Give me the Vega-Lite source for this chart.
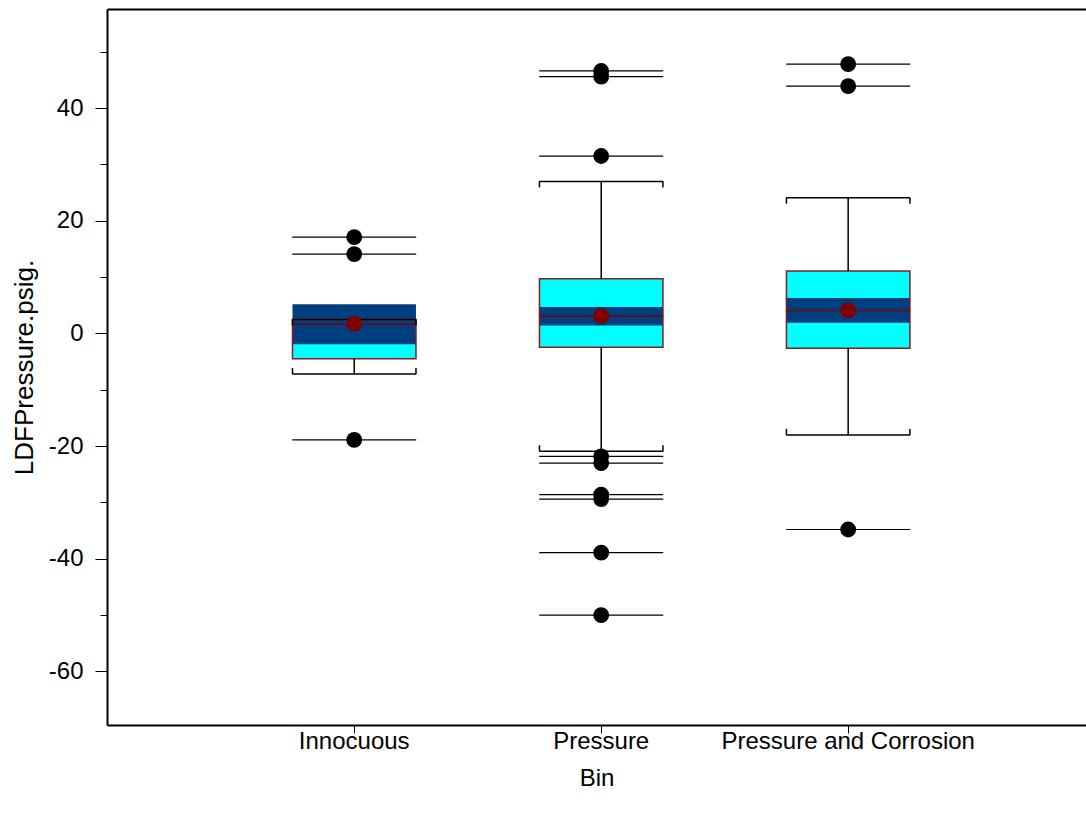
{
  "$schema": "https://vega.github.io/schema/vega-lite/v6.json",
  "width": 979,
  "height": 716,
  "autosize": {"type": "none"},
  "padding": {"left": 107, "top": 9, "right": 0, "bottom": 96},
  "background": "white",
  "config": {
    "view": {"stroke": null},
    "font": "Liberation Sans",
    "axis": {"grid": false, "domainColor": "black", "tickColor": "black", "labelColor": "black", "titleColor": "black", "titleFontWeight": "normal", "labelFont": "Liberation Sans", "titleFont": "Liberation Sans", "labelLimit": 0}
  },
  "datasets": {
    "stats": [
      {"Bin": "Innocuous", "q1": -4.5, "q3": 2.5, "median": 1.7, "mean": 1.7, "ciLow": -1.9, "ciHigh": 5.2, "whiskerLow": -7.2, "whiskerHigh": 2.5},
      {"Bin": "Pressure", "q1": -2.45, "q3": 9.7, "median": 3.05, "mean": 3.1, "ciLow": 1.4, "ciHigh": 4.7, "whiskerLow": -20.9, "whiskerHigh": 27.0},
      {"Bin": "Pressure and Corrosion", "q1": -2.6, "q3": 11.1, "median": 4.1, "mean": 4.1, "ciLow": 1.9, "ciHigh": 6.3, "whiskerLow": -18.0, "whiskerHigh": 24.1}
    ],
    "outliers": [
      {"Bin": "Innocuous", "value": 17.1},
      {"Bin": "Innocuous", "value": 14.1},
      {"Bin": "Innocuous", "value": -18.9},
      {"Bin": "Pressure", "value": 46.6},
      {"Bin": "Pressure", "value": 45.6},
      {"Bin": "Pressure", "value": 31.5},
      {"Bin": "Pressure", "value": -21.8},
      {"Bin": "Pressure", "value": -23.0},
      {"Bin": "Pressure", "value": -28.6},
      {"Bin": "Pressure", "value": -29.4},
      {"Bin": "Pressure", "value": -38.9},
      {"Bin": "Pressure", "value": -50.0},
      {"Bin": "Pressure and Corrosion", "value": 47.8},
      {"Bin": "Pressure and Corrosion", "value": 43.9},
      {"Bin": "Pressure and Corrosion", "value": -34.8}
    ]
  },
  "resolve": {"axis": {"x": "independent", "y": "independent"}},
  "layer": [
    {
      "data": {"name": "stats"},
      "mark": {"type": "bar", "fill": "#00FFFF", "stroke": null},
      "encoding": {
        "x": {"field": "Bin", "type": "nominal", "sort": ["Innocuous", "Pressure", "Pressure and Corrosion"],
          "scale": {"type": "band", "paddingInner": 0.5, "paddingOuter": 0.732, "align": 0.513},
          "axis": {"orient": "bottom", "title": "Bin", "labelAngle": 0, "labelFontSize": 24, "titleFontSize": 24, "tickSize": 8, "tickWidth": 1, "domainWidth": 2, "labelPadding": -4, "titlePadding": 13}},
        "y": {"field": "q1", "type": "quantitative",
          "scale": {"domain": [-69.5, 57.6], "nice": false, "zero": false},
          "axis": {"orient": "left", "values": [-60, -40, -20, 0, 20, 40], "labelExpr": "toString(datum.value)", "title": "LDFPressure.psig.", "labelFontSize": 24, "titleFontSize": 26, "tickSize": 12, "tickWidth": 1, "domainWidth": 2, "labelPadding": 12, "titleAngle": -90, "titleX": -83, "titleAlign": "center", "titleBaseline": "middle"}},
        "y2": {"field": "q3"}
      }
    },
    {
      "data": {"name": "stats"},
      "mark": {"type": "bar", "fill": "#003F7F", "stroke": null},
      "encoding": {
        "x": {"field": "Bin", "type": "nominal", "sort": ["Innocuous", "Pressure", "Pressure and Corrosion"],
          "axis": {"orient": "top", "labels": false, "ticks": false, "title": null, "domainWidth": 2}},
        "y": {"field": "ciLow", "type": "quantitative",
          "axis": {"orient": "left", "values": [-50, -30, -10, 10, 30, 50], "labels": false, "domain": false, "title": null, "tickSize": 7, "tickWidth": 1}},
        "y2": {"field": "ciHigh"}
      }
    },
    {
      "data": {"name": "stats"},
      "mark": {"type": "bar", "fill": null, "fillOpacity": 0, "stroke": "#8B1A1A", "strokeWidth": 1.5},
      "encoding": {
        "x": {"field": "Bin", "type": "nominal", "sort": ["Innocuous", "Pressure", "Pressure and Corrosion"], "axis": null},
        "y": {"field": "q1", "type": "quantitative", "axis": null},
        "y2": {"field": "q3"}
      }
    },
    {
      "data": {"name": "stats"},
      "mark": {"type": "tick", "color": "#800000", "size": 124, "thickness": 1.5, "opacity": 1},
      "encoding": {
        "x": {"field": "Bin", "type": "nominal", "sort": ["Innocuous", "Pressure", "Pressure and Corrosion"], "axis": null},
        "y": {"field": "median", "type": "quantitative", "axis": null}
      }
    },
    {
      "data": {"name": "stats"},
      "mark": {"type": "rule", "color": "black", "strokeWidth": 1.5},
      "encoding": {
        "x": {"field": "Bin", "type": "nominal", "sort": ["Innocuous", "Pressure", "Pressure and Corrosion"], "axis": null},
        "y": {"field": "q3", "type": "quantitative", "axis": null},
        "y2": {"field": "whiskerHigh"}
      }
    },
    {
      "data": {"name": "stats"},
      "mark": {"type": "rule", "color": "black", "strokeWidth": 1.5},
      "encoding": {
        "x": {"field": "Bin", "type": "nominal", "sort": ["Innocuous", "Pressure", "Pressure and Corrosion"], "axis": null},
        "y": {"field": "whiskerLow", "type": "quantitative", "axis": null},
        "y2": {"field": "q1"}
      }
    },
    {
      "data": {"name": "stats"},
      "mark": {"type": "tick", "color": "black", "size": 124, "thickness": 1.5, "opacity": 1},
      "encoding": {
        "x": {"field": "Bin", "type": "nominal", "sort": ["Innocuous", "Pressure", "Pressure and Corrosion"], "axis": null},
        "y": {"field": "whiskerHigh", "type": "quantitative", "axis": null}
      }
    },
    {
      "data": {"name": "stats"},
      "mark": {"type": "tick", "color": "black", "size": 124, "thickness": 1.5, "opacity": 1},
      "encoding": {
        "x": {"field": "Bin", "type": "nominal", "sort": ["Innocuous", "Pressure", "Pressure and Corrosion"], "axis": null},
        "y": {"field": "whiskerLow", "type": "quantitative", "axis": null}
      }
    },
    {
      "data": {"name": "stats"},
      "mark": {"type": "rule", "color": "black", "strokeWidth": 1.5, "y2Offset": 6},
      "encoding": {
        "x": {"field": "Bin", "type": "nominal", "sort": ["Innocuous", "Pressure", "Pressure and Corrosion"], "bandPosition": 0, "axis": null},
        "y": {"field": "whiskerHigh", "type": "quantitative", "axis": null},
        "y2": {"field": "whiskerHigh"}
      }
    },
    {
      "data": {"name": "stats"},
      "mark": {"type": "rule", "color": "black", "strokeWidth": 1.5, "y2Offset": 6},
      "encoding": {
        "x": {"field": "Bin", "type": "nominal", "sort": ["Innocuous", "Pressure", "Pressure and Corrosion"], "bandPosition": 1, "axis": null},
        "y": {"field": "whiskerHigh", "type": "quantitative", "axis": null},
        "y2": {"field": "whiskerHigh"}
      }
    },
    {
      "data": {"name": "stats"},
      "mark": {"type": "rule", "color": "black", "strokeWidth": 1.5, "y2Offset": -6},
      "encoding": {
        "x": {"field": "Bin", "type": "nominal", "sort": ["Innocuous", "Pressure", "Pressure and Corrosion"], "bandPosition": 0, "axis": null},
        "y": {"field": "whiskerLow", "type": "quantitative", "axis": null},
        "y2": {"field": "whiskerLow"}
      }
    },
    {
      "data": {"name": "stats"},
      "mark": {"type": "rule", "color": "black", "strokeWidth": 1.5, "y2Offset": -6},
      "encoding": {
        "x": {"field": "Bin", "type": "nominal", "sort": ["Innocuous", "Pressure", "Pressure and Corrosion"], "bandPosition": 1, "axis": null},
        "y": {"field": "whiskerLow", "type": "quantitative", "axis": null},
        "y2": {"field": "whiskerLow"}
      }
    },
    {
      "data": {"name": "outliers"},
      "mark": {"type": "tick", "color": "black", "size": 124, "thickness": 1.2, "opacity": 1},
      "encoding": {
        "x": {"field": "Bin", "type": "nominal", "sort": ["Innocuous", "Pressure", "Pressure and Corrosion"], "axis": null},
        "y": {"field": "value", "type": "quantitative", "axis": null}
      }
    },
    {
      "data": {"name": "outliers"},
      "mark": {"type": "circle", "color": "black", "size": 250, "opacity": 1},
      "encoding": {
        "x": {"field": "Bin", "type": "nominal", "sort": ["Innocuous", "Pressure", "Pressure and Corrosion"], "axis": null},
        "y": {"field": "value", "type": "quantitative", "axis": null}
      }
    },
    {
      "data": {"name": "stats"},
      "mark": {"type": "circle", "color": "#800000", "size": 250, "opacity": 1},
      "encoding": {
        "x": {"field": "Bin", "type": "nominal", "sort": ["Innocuous", "Pressure", "Pressure and Corrosion"], "axis": null},
        "y": {"field": "mean", "type": "quantitative", "axis": null}
      }
    }
  ]
}
